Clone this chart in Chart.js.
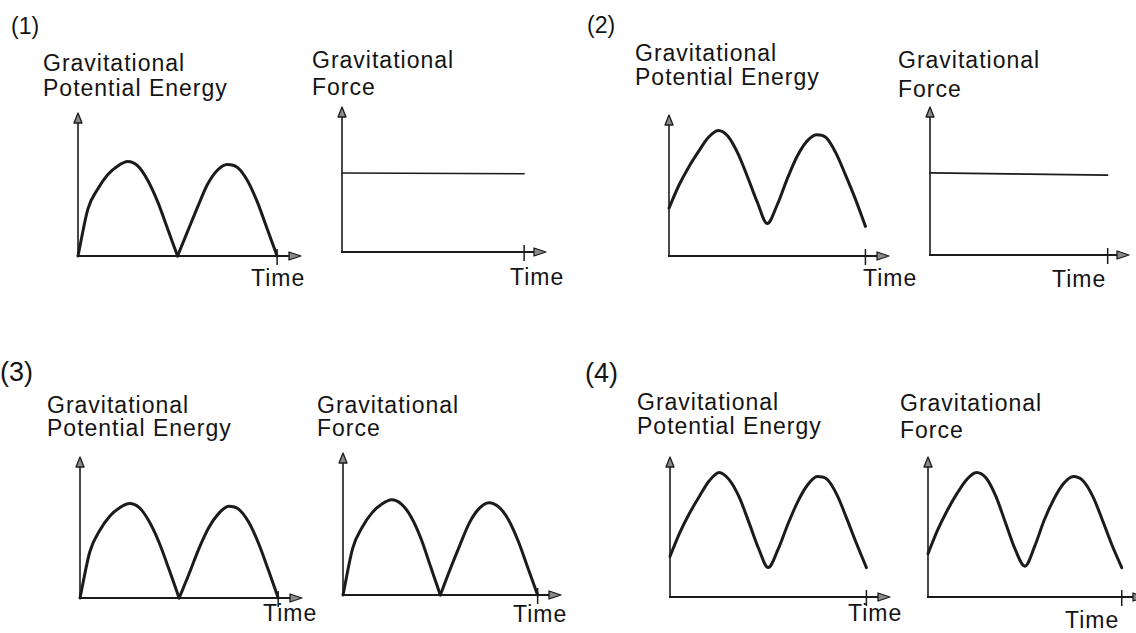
<!DOCTYPE html>
<html>
<head>
<meta charset="utf-8">
<script src="https://cdn.jsdelivr.net/npm/chart.js@4.4.0/dist/chart.umd.min.js"></script>
<style>
  html, body { margin: 0; padding: 0; background: #fff; }
  #page { position: relative; width: 1136px; height: 633px; overflow: hidden; background: #fff; }
  #page canvas { position: absolute; }
  .t {
    position: absolute; white-space: nowrap; color: #141414;
    font-family: "Liberation Sans", Arial, sans-serif; font-size: 23px;
    line-height: 1; letter-spacing: 1px;
  }
  .n { font-size: 23px; letter-spacing: 0; }
  .n.big { font-size: 27px; }
</style>
</head>
<body>
<div id="page"></div>
<script>
// Gravitational PE / force vs time, four answer choices (two small plots each).
// y values are in axis units: 0 = time axis, 10 = tip of the vertical arrow.
// time runs 0..10, 10 being the tick mark on the time axis.

const TIME = [0, 0.5, 1, 1.5, 2, 2.5, 3, 3.5, 4, 4.5, 5, 5.5, 6, 6.5, 7, 7.5, 8, 8.5, 9, 9.5, 10];
const FLAT_TIME = [0, 10];

// (1) bounces to the ground, force constant
const pe1 = [0, 3.3, 4.7, 5.7, 6.3, 6.6, 6.3, 5.3, 3.8, 1.9, 0, 1.7, 3.4, 5.0, 6.0, 6.4, 6.2, 5.3, 3.8, 1.9, 0];
const force1 = [5.45, 5.4];

// (2) never reaches the ground, force constant
const pe2 = [3.4, 5.0, 6.3, 7.4, 8.4, 8.9, 8.5, 7.3, 5.6, 3.8, 2.3, 3.6, 5.4, 7.0, 8.1, 8.6, 8.4, 7.3, 5.7, 4.0, 2.1];
const force2 = [5.55, 5.4];

// (3) force follows the energy
const pe3 = [0, 3.3, 4.8, 5.8, 6.4, 6.7, 6.4, 5.4, 3.9, 2.0, 0, 1.7, 3.5, 5.0, 6.0, 6.5, 6.3, 5.4, 3.9, 2.0, 0];
const force3 = [0, 3.3, 4.8, 5.8, 6.4, 6.7, 6.4, 5.5, 4.0, 2.0, 0, 1.8, 3.5, 5.1, 6.1, 6.5, 6.2, 5.3, 3.8, 1.9, 0];

// (4)
const pe4 = [2.9, 4.6, 6.0, 7.2, 8.3, 8.9, 8.4, 7.2, 5.4, 3.5, 2.1, 3.4, 5.2, 6.8, 8.0, 8.6, 8.4, 7.3, 5.6, 3.8, 2.1];
const force4 = [3.1, 4.8, 6.2, 7.4, 8.4, 8.9, 8.5, 7.2, 5.3, 3.4, 2.2, 3.6, 5.5, 7.0, 8.1, 8.6, 8.3, 7.2, 5.5, 3.7, 2.1];

const X_MAX = 11.2;   // arrow tip past the tick
const Y_MAX = 10;

/* ===================== Layout ===================== */

// ox, oy = where the axes meet; w = px to the time tick; h = px to the top arrow
const PLOTS = [
  { id: "p1a", ox: 78,  oy: 256, w: 199, h: 143, time: TIME, vals: pe1, cusp: true, lw: 3 },
  { id: "p1b", ox: 342, oy: 252, w: 182, h: 145, time: FLAT_TIME, vals: force1, lw: 1.6 },
  { id: "p2a", ox: 669, oy: 256, w: 196, h: 141, time: TIME, vals: pe2, lw: 3 },
  { id: "p2b", ox: 930, oy: 255, w: 178, h: 148, time: FLAT_TIME, vals: force2, lw: 1.6 },
  { id: "p3a", ox: 80,  oy: 598, w: 198, h: 141, time: TIME, vals: pe3, cusp: true, lw: 3 },
  { id: "p3b", ox: 343, oy: 595, w: 195, h: 142, time: TIME, vals: force3, cusp: true, lw: 3 },
  { id: "p4a", ox: 670, oy: 597, w: 196, h: 140, time: TIME, vals: pe4, lw: 3 },
  { id: "p4b", ox: 928, oy: 597, w: 194, h: 140, time: TIME, vals: force4, lw: 3 },
];

const LABELS = [
  // panel numbers
  { text: "(1)", x: 11,  y: 15,  cls: "n" },
  { text: "(2)", x: 587, y: 14,  cls: "n" },
  { text: "(3)", x: 0,   y: 359, cls: "n big" },
  { text: "(4)", x: 585, y: 360, cls: "n big" },
  // titles
  { text: "Gravitational", x: 43,  y: 52 },  { text: "Potential Energy", x: 43,  y: 77 },
  { text: "Gravitational", x: 312, y: 49 },  { text: "Force", x: 312, y: 76 },
  { text: "Gravitational", x: 635, y: 42 },  { text: "Potential Energy", x: 635, y: 66 },
  { text: "Gravitational", x: 898, y: 49 },  { text: "Force", x: 898, y: 78 },
  { text: "Gravitational", x: 47,  y: 394 }, { text: "Potential Energy", x: 47,  y: 417 },
  { text: "Gravitational", x: 317, y: 394 }, { text: "Force", x: 317, y: 417 },
  { text: "Gravitational", x: 637, y: 391 }, { text: "Potential Energy", x: 637, y: 415 },
  { text: "Gravitational", x: 900, y: 392 }, { text: "Force", x: 900, y: 419 },
  // time labels
  { text: "Time", x: 251,  y: 267 }, { text: "Time", x: 510,  y: 266 },
  { text: "Time", x: 863,  y: 267 }, { text: "Time", x: 1052, y: 268 },
  { text: "Time", x: 263,  y: 602 }, { text: "Time", x: 513,  y: 603 },
  { text: "Time", x: 848,  y: 602 }, { text: "Time", x: 1065, y: 609 },
];

const PAD = { left: 12, right: 8, top: 8, bottom: 14 };
const INK = "#1b1b1b";

/* ===================== Axes plugin ===================== */

const axesArrows = {
  id: "axesArrows",
  beforeDatasetsDraw(chart) {
    const { ctx, scales: { x, y } } = chart;
    const x0 = x.getPixelForValue(0);
    const y0 = y.getPixelForValue(0);
    const xEnd = x.getPixelForValue(X_MAX);
    const yTop = y.getPixelForValue(Y_MAX);
    const xTick = x.getPixelForValue(10);

    ctx.save();
    ctx.strokeStyle = INK;
    ctx.lineCap = "butt";

    // vertical axis
    ctx.lineWidth = 1.6;
    ctx.beginPath();
    ctx.moveTo(x0, y0 + 1);
    ctx.lineTo(x0, yTop + 8);
    ctx.stroke();

    // time axis
    ctx.lineWidth = 2;
    ctx.beginPath();
    ctx.moveTo(x0 - 1, y0);
    ctx.lineTo(xEnd - 10, y0);
    ctx.stroke();

    // end-of-time tick
    ctx.lineWidth = 1.5;
    ctx.beginPath();
    ctx.moveTo(xTick, y0 - 7);
    ctx.lineTo(xTick, y0 + 9);
    ctx.stroke();

    // arrow heads
    ctx.fillStyle = "#8a8a8a";
    ctx.lineWidth = 1.3;
    ctx.lineJoin = "round";
    ctx.beginPath();
    ctx.moveTo(x0, yTop);
    ctx.lineTo(x0 - 4, yTop + 10);
    ctx.lineTo(x0 + 4, yTop + 10);
    ctx.closePath();
    ctx.fill();
    ctx.stroke();

    ctx.beginPath();
    ctx.moveTo(xEnd, y0);
    ctx.lineTo(xEnd - 12, y0 - 4);
    ctx.lineTo(xEnd - 12, y0 + 4);
    ctx.closePath();
    ctx.fill();
    ctx.stroke();
    ctx.restore();
  },
};

/* ===================== Charts ===================== */

function buildDatasets(p) {
  const pts = p.time.map((t, i) => ({ x: t, y: p.vals[i] }));
  const style = {
    borderColor: INK,
    borderWidth: p.lw,
    pointRadius: 0,
    cubicInterpolationMode: "monotone",
    tension: 0.4,
    fill: false,
    clip: false,
    borderCapStyle: "round",
    borderJoinStyle: "round",
  };
  if (!p.cusp) return [{ ...style, data: pts }];
  // split at the bounce so the bottom stays sharp
  const mid = p.time.indexOf(5);
  return [
    { ...style, data: pts.slice(0, mid + 1) },
    { ...style, data: pts.slice(mid) },
  ];
}

function renderPlot(p) {
  const page = document.getElementById("page");
  const cw = Math.round(PAD.left + p.w * X_MAX / 10 + PAD.right);
  const ch = Math.round(PAD.top + p.h + PAD.bottom);
  const canvas = document.createElement("canvas");
  canvas.id = p.id;
  canvas.width = cw;
  canvas.height = ch;
  canvas.style.width = cw + "px";
  canvas.style.height = ch + "px";
  canvas.style.left = (p.ox - PAD.left) + "px";
  canvas.style.top = (p.oy - p.h - PAD.top) + "px";
  page.appendChild(canvas);

  new Chart(canvas, {
    type: "line",
    data: { datasets: buildDatasets(p) },
    options: {
      responsive: false,
      animation: false,
      devicePixelRatio: 1,
      layout: { padding: PAD },
      events: [],
      scales: {
        x: { type: "linear", min: 0, max: X_MAX, display: false },
        y: { type: "linear", min: 0, max: Y_MAX, display: false },
      },
      plugins: { legend: { display: false }, tooltip: { enabled: false }, title: { display: false } },
    },
    plugins: [axesArrows],
  });
}

function renderLabels() {
  const page = document.getElementById("page");
  for (const l of LABELS) {
    const d = document.createElement("div");
    d.className = "t" + (l.cls ? " " + l.cls : "");
    d.textContent = l.text;
    d.style.left = l.x + "px";
    d.style.top = l.y + "px";
    page.appendChild(d);
  }
}

renderLabels();
PLOTS.forEach(renderPlot);
</script>
</body>
</html>
